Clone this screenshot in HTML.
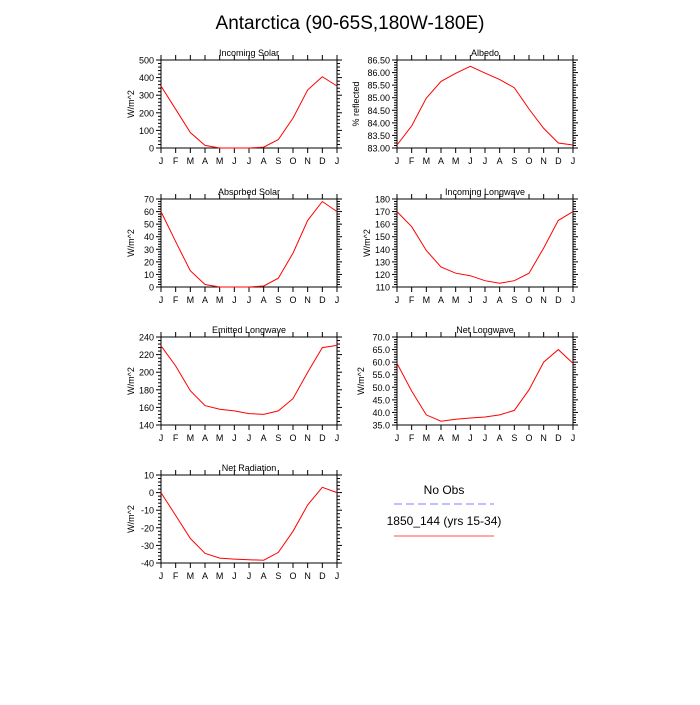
<!DOCTYPE html>
<html><head><meta charset="utf-8"><style>
body{margin:0;background:#fff;}
svg text{font-family:"Liberation Sans",sans-serif;fill:#000;}
</style></head><body>
<svg id="chart" width="700" height="700" viewBox="0 0 700 700">
<rect width="700" height="700" fill="#fff"/>
<text x="350" y="29" font-size="19" text-anchor="middle">Antarctica (90-65S,180W-180E)</text>
<g id="panels"></g>
<g>
<text x="444" y="494" font-size="12" text-anchor="middle">No Obs</text>
<line x1="394" y1="504" x2="494" y2="504" stroke="#7f7fff" stroke-width="1" stroke-dasharray="8,4"/>
<text x="444" y="525" font-size="12" text-anchor="middle">1850_144 (yrs 15-34)</text>
<line x1="394" y1="536" x2="494" y2="536" stroke="#ff5050" stroke-width="1"/>
</g>
</svg>
<script>
const months = ["J","F","M","A","M","J","J","A","S","O","N","D","J"];
const incomingSolar = [352,220,88,15,0,0,0,5,48,170,330,405,352];
const albedo = [83.12,83.88,84.98,85.65,85.97,86.25,85.98,85.72,85.40,84.55,83.78,83.20,83.12];
const absorbedSolar = [60,36,13,2,0,0,0,0.8,7,27,53,68,60];
const incomingLW = [170,158,139,126,121,119,115,113,115,121,141,163,170];
const emittedLW = [230,207,179,162,158,156,153,152,156,170,200,228,230.5];
const netLW = [59.5,48.5,39,36.5,37.3,37.8,38.2,39,40.8,49,60,65,59.5];
const netRad = [0,-13,-26,-34.5,-37.2,-37.8,-38.2,-38.4,-34,-22,-7,3,0];
const ticksIS = [0,100,200,300,400,500];
const ticksAlb = [83,83.5,84,84.5,85,85.5,86,86.5];
const ticksAS = [0,10,20,30,40,50,60,70];
const ticksILW = [110,120,130,140,150,160,170,180];
const ticksELW = [140,160,180,200,220,240];
const ticksNLW = [35,40,45,50,55,60,65,70];
const ticksNR = [-40,-30,-20,-10,0,10];

const NS="http://www.w3.org/2000/svg";
const root=document.getElementById('panels');
function mk(tag,attrs,parent){const e=document.createElementNS(NS,tag);for(const k in attrs)e.setAttribute(k,attrs[k]);parent.appendChild(e);return e;}

const panels=[
 {t:"Incoming Solar",yl:"W/m^2",d:incomingSolar,tk:ticksIS,dec:0,x:161,y:60,minor:5},
 {t:"Albedo",yl:"% reflected",d:albedo,tk:ticksAlb,dec:2,x:397,y:60,minor:5},
 {t:"Absorbed Solar",yl:"W/m^2",d:absorbedSolar,tk:ticksAS,dec:0,x:161,y:199,minor:5},
 {t:"Incoming Longwave",yl:"W/m^2",d:incomingLW,tk:ticksILW,dec:0,x:397,y:199,minor:5},
 {t:"Emitted Longwave",yl:"W/m^2",d:emittedLW,tk:ticksELW,dec:0,x:161,y:337,minor:5},
 {t:"Net Longwave",yl:"W/m^2",d:netLW,tk:ticksNLW,dec:1,x:397,y:337,minor:5},
 {t:"Net Radiation",yl:"W/m^2",d:netRad,tk:ticksNR,dec:0,x:161,y:475,minor:5}
];
const W=176,H=88;
panels.forEach((p,pi)=>{
 const g=mk('g',{},root);
 
 
 const lo=p.tk[0],hi=p.tk[p.tk.length-1];
 const xs=i=>p.x+i*W/(months.length-1);
 const ys=v=>p.y+H-(v-lo)/(hi-lo)*H;
 const t=mk('text',{x:p.x+W/2,y:p.y-4,'font-size':9,'text-anchor':'middle'},g);
 t.textContent=p.t;
 
 
 const yl=mk('text',{x:0,y:0,'font-size':9,'text-anchor':'middle',transform:`translate(${p.x-(p.dec===2?38:p.dec===1?33:27)},${p.y+H/2}) rotate(-90)`},g);
 yl.textContent=p.yl;
 
 
 // month ticks & labels
 months.forEach((m,i)=>{
  const x=xs(i);
  mk('line',{x1:x,y1:p.y,x2:x,y2:p.y-5,stroke:'#000','stroke-width':1},g);
  mk('line',{x1:x,y1:p.y+H,x2:x,y2:p.y+H+5,stroke:'#000','stroke-width':1},g);
  const lt=mk('text',{x:x,y:p.y+H+16,'font-size':9,'text-anchor':'middle'},g);
  lt.textContent=m;
  
  
 });
 // y ticks
 for(let k=0;k<p.tk.length;k++){
  const v=p.tk[k],y=ys(v);
  mk('line',{x1:p.x-5,y1:y,x2:p.x,y2:y,stroke:'#000'},g);
  mk('line',{x1:p.x+W,y1:y,x2:p.x+W+5,y2:y,stroke:'#000'},g);
  const lt=mk('text',{x:p.x-7,y:y+3.5,'font-size':9,'text-anchor':'end'},g);
  lt.textContent=v.toFixed(p.dec);
  
  
  if(k<p.tk.length-1){
   const step=(p.tk[k+1]-v)/p.minor;
   for(let j=1;j<p.minor;j++){const yy=ys(v+j*step);
    mk('line',{x1:p.x-3,y1:yy,x2:p.x,y2:yy,stroke:'#000'},g);
    mk('line',{x1:p.x+W,y1:yy,x2:p.x+W+3,y2:yy,stroke:'#000'},g);}
  }
 }
 const box=mk('rect',{x:p.x,y:p.y,width:W,height:H,fill:'none',stroke:'#000','stroke-width':1},g);
 
 
 const pts=p.d.map((v,i)=>xs(i).toFixed(1)+','+ys(v).toFixed(1)).join(' ');
 const line=mk('polyline',{points:pts,fill:'none',stroke:'#ff0000','stroke-width':1},g);
 
 
});
</script>
</body></html>
